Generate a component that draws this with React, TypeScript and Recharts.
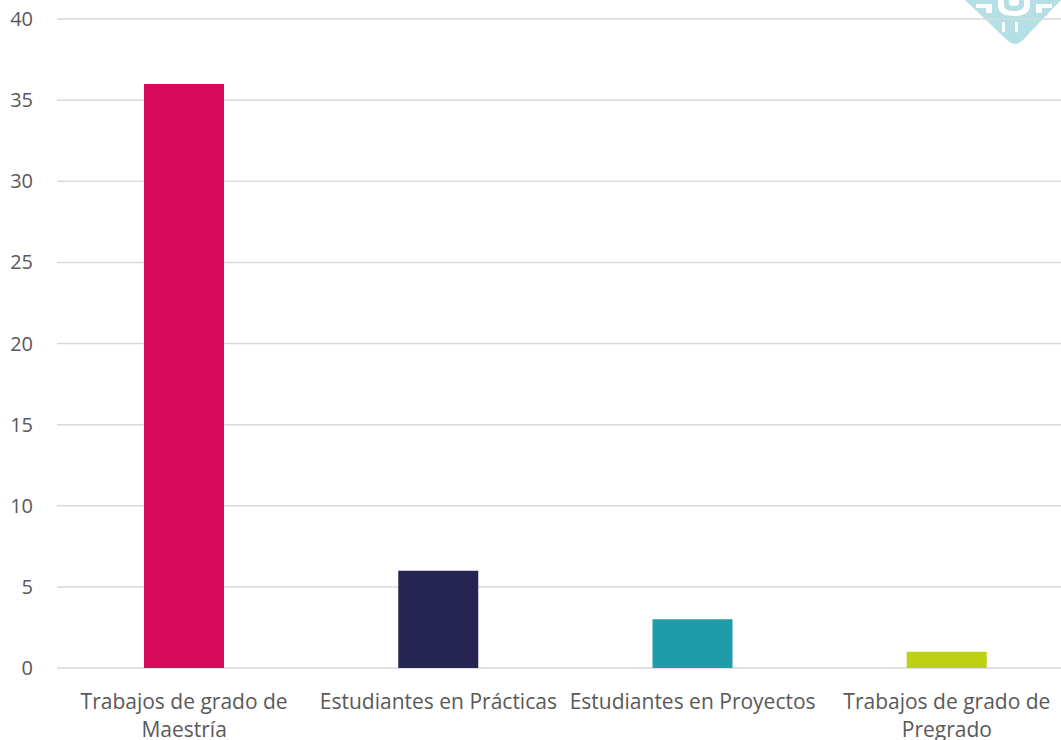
import React from "react";
import { BarChart, Bar, XAxis, YAxis, CartesianGrid, Cell } from "recharts";

const categories = [
  "Trabajos de grado de\nMaestría",
  "Estudiantes en Prácticas",
  "Estudiantes en Proyectos",
  "Trabajos de grado de\nPregrado",
];
const values = [36, 6, 3, 1];
const barColors = ["#D6095A", "#262450", "#1F9BAA", "#BCD014"];
const yTicks = [0, 5, 10, 15, 20, 25, 30, 35, 40];

const data = categories.map((c, i) => ({ name: c, value: values[i] }));

const FONT = "'Open Sans', 'Noto Sans', sans-serif";
const TEXT_COLOR = "#595959";

const XTick = (props: any) => {
  const { x, y, payload } = props;
  const lines = String(payload.value).split("\n");
  return (
    <text
      x={x}
      y={y + 39}
      textAnchor="middle"
      fill={TEXT_COLOR}
      fontSize={21}
      fontFamily={FONT}
    >
      {lines.map((l: string, i: number) => (
        <tspan key={i} x={x} dy={i === 0 ? 0 : 28}>
          {l}
        </tspan>
      ))}
    </text>
  );
};

const Logo = () => (
  <svg
    width={100}
    height={50}
    style={{ position: "absolute", left: 962, top: 0 }}
    viewBox="0 0 100 50"
  >
    <path d="M3 0 L99 0 L60 41 Q53 47 46 41 Z" fill="#B4DFE4" />
    <path
      d="M36 0 L36 5 Q36 16 52 16 Q68 16 68 5 L68 0 L62 0 L62 5 Q62 11 52 11 Q42 11 42 5 L42 0 Z"
      fill="#FFFFFF"
    />
    <path d="M47 0 L47 3 Q47 6 52 6 Q57 6 57 3 L57 0 Z" fill="#FFFFFF" />
    <path d="M14 4 L30 4 L30 13 L24 13 L24 8 L14 8 Z" fill="#FFFFFF" />
    <path d="M90 4 L74 4 L74 13 L80 13 L80 8 L90 8 Z" fill="#FFFFFF" />
    <rect x={40} y={22} width={3} height={10} fill="#FFFFFF" />
    <rect x={53} y={22} width={3} height={10} fill="#FFFFFF" />
  </svg>
);

export default function App() {
  return (
    <div
      style={{
        position: "fixed",
        left: 0,
        top: 0,
        width: 1061,
        height: 740,
        overflow: "hidden",
        background: "#FFFFFF",
      }}
    >
      <Logo />
      <div style={{ position: "absolute", left: 0, top: 0 }}>
        <BarChart
          width={1080}
          height={740}
          data={data}
          margin={{ top: 19, right: 6, bottom: 0, left: 0 }}
        >
          <CartesianGrid vertical={false} stroke="#D9D9D9" strokeWidth={1.5} />
          <XAxis
            dataKey="name"
            axisLine={false}
            tickLine={false}
            tickSize={0}
            height={72}
            interval={0}
            tick={<XTick />}
          />
          <YAxis
            domain={[0, 40]}
            ticks={yTicks}
            axisLine={false}
            tickLine={false}
            tickSize={0}
            tickMargin={24}
            width={57}
            tick={{ fill: TEXT_COLOR, fontSize: 20, fontFamily: FONT }}
          />
          <Bar dataKey="value" barSize={80} isAnimationActive={false}>
            {data.map((d, i) => (
              <Cell key={d.name} fill={barColors[i]} />
            ))}
          </Bar>
        </BarChart>
      </div>
    </div>
  );
}
